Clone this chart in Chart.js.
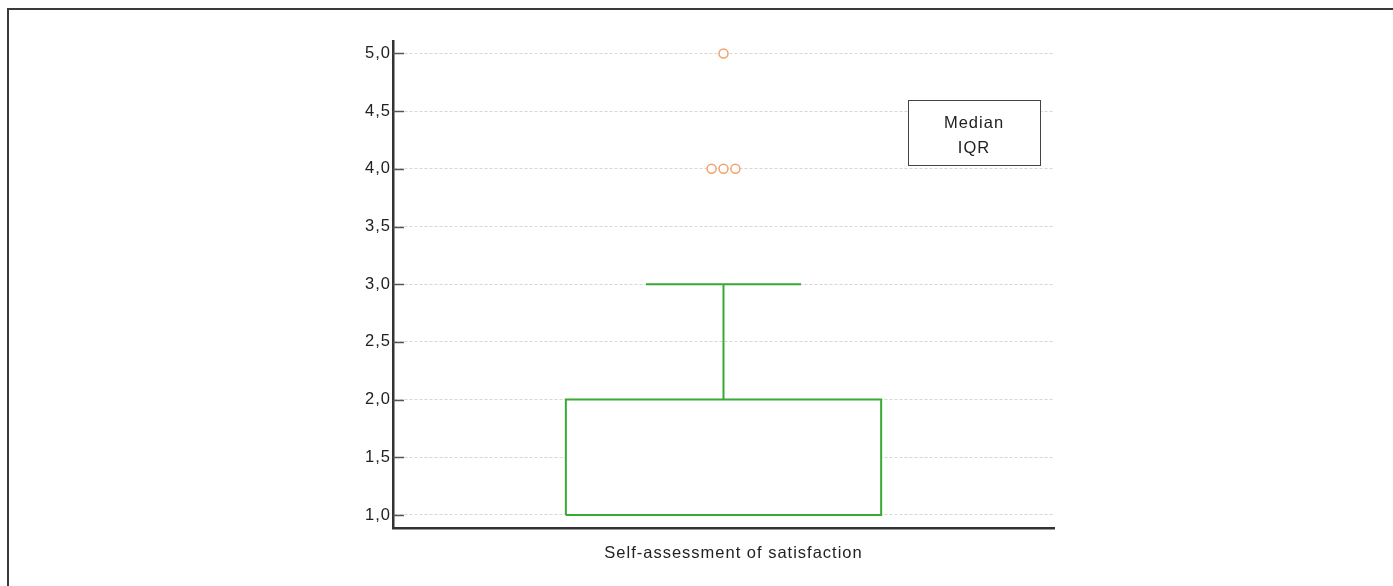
<!DOCTYPE html>
<html>
<head>
<meta charset="utf-8">
<script src="https://cdn.jsdelivr.net/npm/chart.js@4/dist/chart.umd.min.js"></script>
<style>
  html, body { margin: 0; padding: 0; background: #fff; }
  #wrap { position: relative; width: 1393px; height: 586px; overflow: hidden; }
  #frame { position: absolute; left: 7px; top: 8px; width: 1400px; height: 600px;
           border-top: 2px solid #3a3a3a; border-left: 2px solid #3a3a3a; }
  canvas { position: absolute; left: 0; top: 0; }
</style>
</head>
<body>
<div id="wrap">
  <div id="frame"></div>
  <canvas id="chart" width="1393" height="586"></canvas>
</div>
<script>
// data
const categories = ["Self-assessment of satisfaction"];
const q1 = [1];
const median = [1];
const q3 = [2];
const whiskerLow = [1];
const whiskerHigh = [3];
const outliers = [[4, 4, 4, 5]];
const yTicks = [1, 1.5, 2, 2.5, 3, 3.5, 4, 4.5, 5];
const legendLines = ["Median", "IQR"];

const green = "#3aa935";
const orange = "#f2a26c";
const axisColor = "#333";
const font = { family: "'Liberation Sans', Arial, sans-serif", size: 16.5 };

const boxHalf = 0.477;   // half width of the box (x units)
const capHalf = 0.2345;  // half width of whisker cap
const jitter = 0.036;    // spacing of equal outliers

// build the shapes for the single category (x centre = 0)
const i = 0;
const boxPts = [
  { x: -boxHalf, y: q1[i] }, { x: boxHalf, y: q1[i] },
  { x: boxHalf, y: q3[i] }, { x: -boxHalf, y: q3[i] }, { x: -boxHalf, y: q1[i] }
];
const lineSet = (pts) => ({
  type: "line", data: pts, borderColor: green, borderWidth: 2,
  pointRadius: 0, fill: false, tension: 0
});

// spread repeated outlier values side by side
const counts = {};
outliers[i].forEach(v => counts[v] = (counts[v] || 0) + 1);
const seen = {};
const outlierPts = outliers[i].map(v => {
  const k = seen[v] = (seen[v] || 0) + 1;
  return { x: (k - 1 - (counts[v] - 1) / 2) * jitter, y: v };
});

// the reference text is a bit wider than Arial, spread it a little
const wideText = {
  id: "wideText",
  beforeDraw(chart) { chart.ctx.letterSpacing = "1px"; }
};

const insideTicks = {
  id: "insideTicks",
  afterDatasetsDraw(chart) {
    const { ctx, chartArea, scales } = chart;
    ctx.save();
    ctx.strokeStyle = "#555";
    ctx.lineWidth = 1.5;
    yTicks.forEach(v => {
      const y = Math.round(scales.y.getPixelForValue(v)) + 0.5;
      ctx.beginPath();
      ctx.moveTo(chartArea.left, y);
      ctx.lineTo(chartArea.left + 11, y);
      ctx.stroke();
    });
    ctx.restore();
  }
};

const textLegend = {
  id: "textLegend",
  afterDraw(chart) {
    const { ctx, chartArea } = chart;
    const x = chartArea.right - 146, y = chartArea.top + 59, w = 132, h = 65;
    ctx.save();
    ctx.fillStyle = "#fff";
    ctx.fillRect(x, y, w, h);
    ctx.strokeStyle = "#444";
    ctx.lineWidth = 1;
    ctx.strokeRect(x + 0.5, y + 0.5, w, h);
    ctx.fillStyle = "#222";
    ctx.font = font.size + "px " + font.family;
    ctx.textAlign = "center";
    ctx.textBaseline = "middle";
    legendLines.forEach((t, n) => ctx.fillText(t, x + w / 2, y + 23 + n * 25));
    ctx.restore();
  }
};

new Chart(document.getElementById("chart"), {
  data: {
    datasets: [
      {
        type: "scatter", data: outlierPts, pointRadius: 4.5, pointHoverRadius: 4.5,
        pointBorderWidth: 1.5, pointBorderColor: orange, pointBackgroundColor: "#fff"
      },
      lineSet([{ x: -boxHalf, y: median[i] }, { x: boxHalf, y: median[i] }]),
      lineSet([{ x: 0, y: q3[i] }, { x: 0, y: whiskerHigh[i] }]),
      lineSet([{ x: -capHalf, y: whiskerHigh[i] }, { x: capHalf, y: whiskerHigh[i] }]),
      lineSet([{ x: 0, y: q1[i] }, { x: 0, y: whiskerLow[i] }]),
      Object.assign(lineSet(boxPts), { fill: "shape", backgroundColor: "#fff", borderJoinStyle: "miter" })
    ]
  },
  options: {
    responsive: false,
    animation: false,
    layout: { padding: { left: 343, right: 339, top: 41, bottom: 0 } },
    plugins: { legend: { display: false }, tooltip: { enabled: false } },
    scales: {
      x: {
        type: "linear", min: -1, max: 1,
        afterBuildTicks: (s) => { s.ticks = [{ value: 0 }]; },
        afterFit: (s) => { s.height = 58; },
        grid: { display: false, drawTicks: false },
        border: { display: true, color: axisColor, width: 2.5 },
        ticks: { callback: () => categories[i], color: "#222", font: font, padding: 16,
                 labelOffset: 10, maxRotation: 0 }
      },
      y: {
        type: "linear", min: 0.887, max: 5.108,
        afterBuildTicks: (s) => { s.ticks = yTicks.map(v => ({ value: v })); },
        afterFit: (s) => { s.width = 50; },
        grid: { color: "#d6d6d6", lineWidth: 1, drawTicks: false },
        border: { display: true, color: axisColor, width: 2.5, dash: [3, 2] },
        ticks: { callback: (v) => v.toFixed(1).replace(".", ","), color: "#222", font: font, padding: 2 }
      }
    }
  },
  plugins: [wideText, insideTicks, textLegend]
});
</script>
</body>
</html>
